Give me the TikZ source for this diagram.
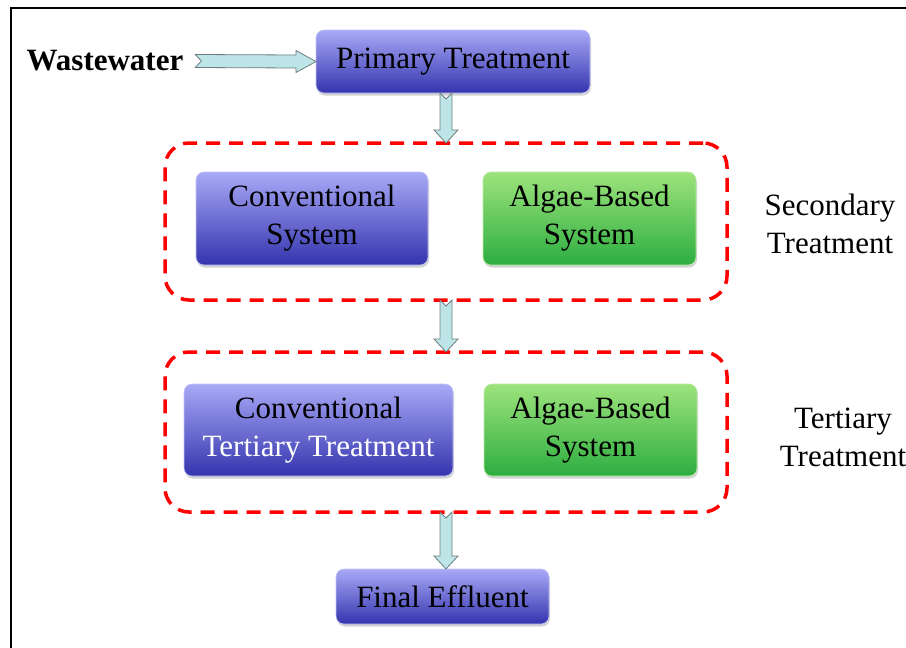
\documentclass[tikz,border=0pt]{standalone}
\usepackage{fontspec}
\setmainfont{Liberation Serif}
\newfontfamily\timesface{Liberation Serif}
\usetikzlibrary{calc,shadows}

\definecolor{boxtop}{HTML}{A9A9F7}
\definecolor{boxbot}{HTML}{3434AE}
\definecolor{greentop}{HTML}{9DE37C}
\definecolor{greenbot}{HTML}{2DAE40}
\definecolor{arrowfill}{HTML}{BDE4E6}
\definecolor{arrowedge}{HTML}{6E7E80}

\tikzset{
  boxtext/.style={font=\timesface\fontsize{31}{38}\selectfont, align=center, inner sep=0pt, outer sep=0pt},
  bluebox/.style={boxtext, rounded corners=8pt, top color=boxtop, bottom color=boxbot,
    draw=boxtop!70!white, line width=0.6pt,
    drop shadow={shadow xshift=1pt, shadow yshift=-2.5pt, opacity=0.35}},
  greenbox/.style={bluebox, top color=greentop, bottom color=greenbot, draw=greentop!70!white},
  stagebox/.style={draw=red, line width=3.5pt, dash pattern=on 14pt off 9pt,
    rounded corners=24pt, inner sep=0pt, outer sep=0pt},
  flowarrow/.style={fill=arrowfill, draw=arrowedge, line width=0.8pt, line join=miter}
}

\newcommand{\flowdown}[2]{%
  \draw [flowarrow] ($(#1)+(-6,0)$) -- ($(#1)+(0,6)$) -- ($(#1)+(6,0)$)
    -- ($(#2)+(6,-13)$) -- ($(#2)+(12,-13)$) -- (#2) -- ($(#2)+(-12,-13)$)
    -- ($(#2)+(-6,-13)$) -- cycle;}
\newcommand{\flowright}[2]{%
  \draw [flowarrow] ($(#1)+(0,-6.5)$) -- ($(#1)+(6,0)$) -- ($(#1)+(0,6.5)$)
    -- ($(#2)+(-20,6.5)$) -- ($(#2)+(-20,11)$) -- (#2) -- ($(#2)+(-20,-11)$)
    -- ($(#2)+(-20,-6.5)$) -- cycle;}

\begin{document}
\begin{tikzpicture}[x=1pt,y=-1pt]
\useasboundingbox (0,0) rectangle (906,648);
\draw [line width=2pt] (11,648) -- (11,8) -- (906,8);

\node [boxtext, font=\timesface\fontsize{31}{38}\selectfont\bfseries, inner xsep=12pt] (ww) at (105,61) {Wastewater};
\node [bluebox, minimum width=274pt, minimum height=63pt] (primary) at (453,61.5) {Primary Treatment};

\node [stagebox, minimum width=562pt, minimum height=157pt] (sec) at (446,221.5) {};
\node [bluebox, minimum width=232pt, minimum height=93pt] (convsec) at (312,218.5) {Conventional\\System};
\node [greenbox, minimum width=213pt, minimum height=93pt] (algaesec) at (589.5,218.5) {Algae-Based\\System};
\node [boxtext] (seclabel) at (830,224) {Secondary\\Treatment};

\node [stagebox, minimum width=562pt, minimum height=160pt] (ter) at (446,432) {};
\node [bluebox, minimum width=269pt, minimum height=92pt] (convter) at (318.5,430) {Conventional\\\textcolor{white}{Tertiary Treatment}};
\node [greenbox, minimum width=213pt, minimum height=92pt] (algaeter) at (590.5,430) {Algae-Based\\System};
\node [boxtext] (terlabel) at (843,437) {Tertiary\\Treatment};

\node [bluebox, minimum width=213pt, minimum height=55pt] (final) at (442.5,596.5) {Final Effluent};

\coordinate (a1) at (primary.south -| sec.north);
\coordinate (a3) at (final.north -| ter.south);
\flowright{ww.east}{primary.west}
\flowdown{a1}{sec.north}
\flowdown{sec.south}{ter.north}
\flowdown{ter.south}{a3}
\end{tikzpicture}
\end{document}
